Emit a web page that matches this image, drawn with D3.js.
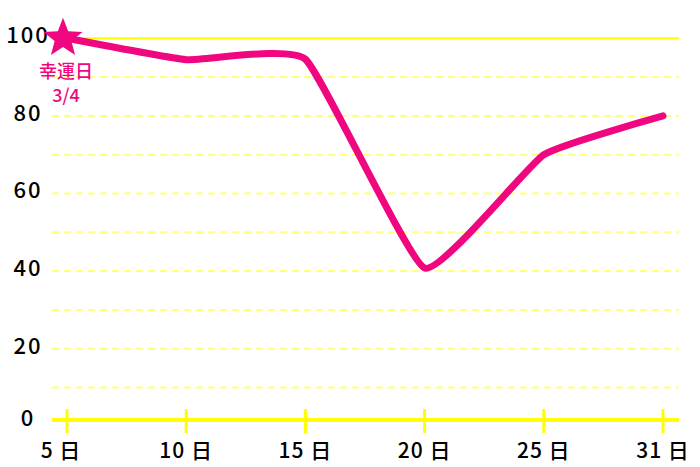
<!DOCTYPE html>
<html>
<head>
<meta charset="utf-8">
<script src="https://cdn.jsdelivr.net/npm/d3@7"></script>
<style>
  html, body { margin: 0; padding: 0; background: #fff; }
  svg text { font-family: "Noto Sans CJK JP", "Noto Sans", sans-serif; font-weight: 500; }
</style>
</head>
<body>
<svg id="chart" width="700" height="467"></svg>
<script>
var days = ["5", "10", "15", "20", "25", "31"];
var values = [100, 94.5, 94.6, 40.8, 70, 80];
var yTicks = [0, 20, 40, 60, 80, 100];
var gridTicks = [10, 20, 30, 40, 50, 60, 70, 80, 90];
var luckyDay = "5";
var luckyLabel = ["幸運日", "3/4"];

var pink = "#f0077f";
var yellow = "#ffff00";
var paleYellow = "#ffff80";

var width = 700, height = 467;
var left = 52, right = 679;
var axisY = 420;

var svg = d3.select("#chart");

var x = d3.scalePoint()
  .domain(days)
  .range([67, 663]);

var y = d3.scaleLinear()
  .domain([0, 100])
  .range([426.3, 38.3]);

// dashed grid
svg.append("g")
  .selectAll("line")
  .data(gridTicks)
  .enter()
  .append("line")
  .attr("x1", left)
  .attr("x2", right)
  .attr("y1", function(d) { return y(d); })
  .attr("y2", function(d) { return y(d); })
  .attr("stroke", paleYellow)
  .attr("stroke-width", 2)
  .attr("stroke-dasharray", "7,5");

// top solid line
svg.append("line")
  .attr("x1", left).attr("x2", right)
  .attr("y1", y(100)).attr("y2", y(100))
  .attr("stroke", yellow)
  .attr("stroke-width", 2);

// x axis
svg.append("line")
  .attr("x1", left).attr("x2", right)
  .attr("y1", axisY).attr("y2", axisY)
  .attr("stroke", yellow)
  .attr("stroke-width", 4);

svg.append("g")
  .selectAll("line")
  .data(days)
  .enter()
  .append("line")
  .attr("x1", function(d) { return x(d); })
  .attr("x2", function(d) { return x(d); })
  .attr("y1", axisY - 11)
  .attr("y2", axisY + 13)
  .attr("stroke", yellow)
  .attr("stroke-width", 3);

svg.append("g")
  .selectAll("text")
  .data(days)
  .enter()
  .append("text")
  .attr("x", function(d, i) { return x(d) - (i == 0 ? 6 : 0); })
  .attr("y", 458)
  .attr("text-anchor", "middle")
  .attr("font-size", 21)
  .attr("letter-spacing", 1)
  .attr("fill", "#000")
  .text(function(d) { return d + " 日"; });

// y labels
svg.append("g")
  .selectAll("text")
  .data(yTicks)
  .enter()
  .append("text")
  .attr("x", 28)
  .attr("y", function(d) { return d == 0 ? axisY - 2 : y(d) - 3; })
  .attr("dy", "0.36em")
  .attr("text-anchor", "middle")
  .attr("font-size", 22)
  .attr("letter-spacing", 2)
  .attr("fill", "#000")
  .text(function(d) { return d; });

// line
var line = d3.line()
  .x(function(d, i) { return x(days[i]); })
  .y(function(d) { return y(d); })
  .curve(d3.curveCardinal.tension(0.6));

svg.append("path")
  .datum(values)
  .attr("d", line)
  .attr("fill", "none")
  .attr("stroke", pink)
  .attr("stroke-width", 7)
  .attr("stroke-linecap", "round")
  .attr("stroke-linejoin", "round");

// star marker
var idx = days.indexOf(luckyDay);
var sx = x(luckyDay) - 4, sy = y(values[idx]);
var starPts = d3.range(10).map(function(i) {
  return [i * Math.PI / 5, i % 2 == 0 ? 20.5 : 8.8];
});
starPts.push(starPts[0]);
svg.append("path")
  .attr("transform", "translate(" + sx + "," + sy + ")")
  .attr("d", d3.lineRadial()(starPts))
  .attr("fill", pink);

svg.append("g")
  .selectAll("text")
  .data(luckyLabel)
  .enter()
  .append("text")
  .attr("x", sx + 3)
  .attr("y", function(d, i) { return 78 + i * 24; })
  .attr("text-anchor", "middle")
  .attr("font-size", 18)
  .attr("fill", pink)
  .text(function(d) { return d; });
</script>
</body>
</html>
